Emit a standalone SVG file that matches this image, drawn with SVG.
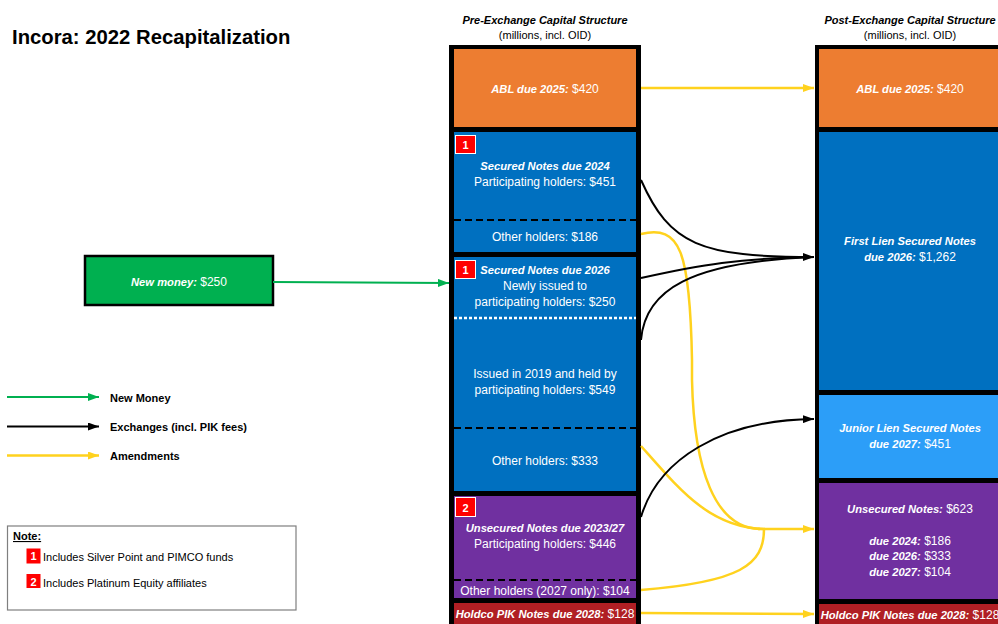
<svg xmlns="http://www.w3.org/2000/svg" width="998" height="624" viewBox="0 0 998 624">
<style>
text{font-family:"Liberation Sans",Arial,sans-serif}
.w{fill:#fff;font-size:12px}
.bi{font-weight:bold;font-style:italic;font-size:11.2px}
.hd{fill:#000;font-size:11px;font-weight:bold;font-style:italic}
.sub{fill:#000;font-size:11px}
.lg{fill:#000;font-size:11px;font-weight:bold}
.nt{fill:#000;font-size:11px}
.bd{fill:#FF0000;stroke:#fff;stroke-width:1}
.bdt{fill:#fff;font-size:11px;font-weight:bold}
.dash{stroke:#000;stroke-width:2;stroke-dasharray:7 4;fill:none}
.dot{stroke:#fff;stroke-width:2.5;stroke-dasharray:3 2;fill:none}
.cy{stroke:#FFD21E;stroke-width:2.5;fill:none}
.ck{stroke:#000;stroke-width:2;fill:none}
.cg{stroke:#00B050;stroke-width:2;fill:none}
</style>
<defs>
<marker id="ay" viewBox="0 0 11 8" refX="11" refY="4" markerWidth="11" markerHeight="8" markerUnits="userSpaceOnUse" orient="auto"><path d="M0,0 L11,4 L0,8 z" fill="#FFD21E"/></marker>
<marker id="ak" viewBox="0 0 11 8" refX="11" refY="4" markerWidth="11" markerHeight="8" markerUnits="userSpaceOnUse" orient="auto"><path d="M0,0 L11,4 L0,8 z" fill="#000"/></marker>
<marker id="ag" viewBox="0 0 11 8" refX="11" refY="4" markerWidth="11" markerHeight="8" markerUnits="userSpaceOnUse" orient="auto"><path d="M0,0 L11,4 L0,8 z" fill="#00B050"/></marker>
</defs>
<rect width="998" height="624" fill="#fff"/>

<text x="12" y="44" style="font-size:20.3px;font-weight:bold" fill="#000">Incora: 2022 Recapitalization</text>

<g id="pre-header">
<text x="545" y="24" class="hd" text-anchor="middle">Pre-Exchange Capital Structure</text>
<text x="545" y="39" class="sub" text-anchor="middle">(millions, incl. OID)</text>
</g>
<g id="post-header">
<text x="910" y="24" class="hd" text-anchor="middle">Post-Exchange Capital Structure</text>
<text x="910" y="39" class="sub" text-anchor="middle">(millions, incl. OID)</text>
</g>

<g id="pre-frame"><rect x="449" y="45" width="192" height="600" fill="#000"/></g>
<g id="post-frame"><rect x="815" y="45" width="192" height="600" fill="#000"/></g>

<g id="pre-abl">
<rect x="454" y="49" width="182" height="78" fill="#ED7D31"/>
<text x="545" y="93" class="w" text-anchor="middle"><tspan class="bi">ABL due 2025:</tspan> $420</text>
</g>
<g id="pre-secured-2024">
<rect x="454" y="132" width="182" height="120" fill="#0070C0"/>
<rect x="455.5" y="135.5" width="20" height="18" class="bd"/>
<text x="465.5" y="149" class="bdt" text-anchor="middle">1</text>
<text x="545" y="170" class="w" text-anchor="middle"><tspan class="bi">Secured Notes due 2024</tspan></text>
<text x="545" y="186" class="w" text-anchor="middle">Participating holders: $451</text>
<line x1="454" y1="220" x2="636" y2="220" class="dash"/>
<text x="545" y="241" class="w" text-anchor="middle">Other holders: $186</text>
</g>
<g id="pre-secured-2026">
<rect x="454" y="257" width="182" height="234" fill="#0070C0"/>
<rect x="455.5" y="260.5" width="20" height="18" class="bd"/>
<text x="465.5" y="274" class="bdt" text-anchor="middle">1</text>
<text x="545" y="274" class="w" text-anchor="middle"><tspan class="bi">Secured Notes due 2026</tspan></text>
<text x="545" y="290" class="w" text-anchor="middle">Newly issued to</text>
<text x="545" y="306" class="w" text-anchor="middle">participating holders: $250</text>
<line x1="454" y1="318" x2="636" y2="318" class="dot"/>
<text x="545" y="378" class="w" text-anchor="middle">Issued in 2019 and held by</text>
<text x="545" y="394" class="w" text-anchor="middle">participating holders: $549</text>
<line x1="454" y1="428" x2="636" y2="428" class="dash"/>
<text x="545" y="465" class="w" text-anchor="middle">Other holders: $333</text>
</g>
<g id="pre-unsecured">
<rect x="454" y="496" width="182" height="102" fill="#7030A0"/>
<rect x="455.5" y="497.5" width="20" height="19" class="bd"/>
<text x="465.5" y="511.5" class="bdt" text-anchor="middle">2</text>
<text x="545" y="532" class="w" text-anchor="middle"><tspan class="bi">Unsecured Notes due 2023/27</tspan></text>
<text x="545" y="548" class="w" text-anchor="middle">Participating holders: $446</text>
<line x1="454" y1="580" x2="636" y2="580" class="dash"/>
<text x="545" y="595" class="w" text-anchor="middle">Other holders (2027 only): $104</text>
</g>
<g id="pre-holdco">
<rect x="454" y="603" width="182" height="30" fill="#B01F24"/>
<text x="545" y="618" class="w" text-anchor="middle"><tspan class="bi">Holdco PIK Notes due 2028:</tspan> $128</text>
</g>

<g id="post-abl">
<rect x="819" y="49" width="182" height="78" fill="#ED7D31"/>
<text x="910" y="93" class="w" text-anchor="middle"><tspan class="bi">ABL due 2025:</tspan> $420</text>
</g>
<g id="post-first-lien">
<rect x="819" y="132" width="182" height="258" fill="#0070C0"/>
<text x="910" y="245" class="w" text-anchor="middle"><tspan class="bi">First Lien Secured Notes</tspan></text>
<text x="910" y="261" class="w" text-anchor="middle"><tspan class="bi">due 2026:</tspan> $1,262</text>
</g>
<g id="post-junior-lien">
<rect x="819" y="395" width="182" height="83" fill="#2C9EF8"/>
<text x="910" y="432" class="w" text-anchor="middle"><tspan class="bi">Junior Lien Secured Notes</tspan></text>
<text x="910" y="448" class="w" text-anchor="middle"><tspan class="bi">due 2027:</tspan> $451</text>
</g>
<g id="post-unsecured">
<rect x="819" y="483" width="182" height="116" fill="#7030A0"/>
<text x="910" y="513" class="w" text-anchor="middle"><tspan class="bi">Unsecured Notes:</tspan> $623</text>
<text x="910" y="545" class="w" text-anchor="middle"><tspan class="bi">due 2024:</tspan> $186</text>
<text x="910" y="560" class="w" text-anchor="middle"><tspan class="bi">due 2026:</tspan> $333</text>
<text x="910" y="576" class="w" text-anchor="middle"><tspan class="bi">due 2027:</tspan> $104</text>
</g>
<g id="post-holdco">
<rect x="819" y="604" width="182" height="30" fill="#B01F24"/>
<text x="910" y="619" class="w" text-anchor="middle"><tspan class="bi">Holdco PIK Notes due 2028:</tspan> $128</text>
</g>

<g id="new-money">
<rect x="85" y="256" width="188" height="49" fill="#00B050" stroke="#000" stroke-width="2.5"/>
<text x="179" y="286" class="w" text-anchor="middle"><tspan class="bi">New money:</tspan> $250</text>
</g>

<g id="connectors">
<path d="M273,282 L449,283" class="cg" marker-end="url(#ag)"/>
<path d="M641,88 L814,88" class="cy" marker-end="url(#ay)"/>
<path d="M641,234 C680,225 690,250 692,360 L692,380 C694,470 715,528 760,529" class="cy"/>
<path d="M641,446 C680,490 710,528 765,529" class="cy"/>
<path d="M641,590 C740,582 764,565 764,529" class="cy"/>
<path d="M758,529 L814,529" class="cy" marker-end="url(#ay)"/>
<path d="M641,613 L814,614" class="cy" marker-end="url(#ay)"/>
<path d="M641,180 C670,245 700,257 814,257" class="ck" marker-end="url(#ak)"/>
<path d="M641,278 C700,265 740,258 814,257" class="ck"/>
<path d="M641,340 C645,290 690,262 814,257" class="ck"/>
<path d="M641,517 C658,460 720,420 814,419" class="ck" marker-end="url(#ak)"/>
</g>

<g id="legend">
<line x1="7" y1="397" x2="99" y2="397" class="cg" marker-end="url(#ag)"/>
<text x="110" y="402" class="lg">New Money</text>
<line x1="7" y1="426.5" x2="99" y2="426.5" class="ck" marker-end="url(#ak)"/>
<text x="110" y="431" class="lg">Exchanges (incl. PIK fees)</text>
<line x1="7" y1="455.5" x2="99" y2="455.5" class="cy" marker-end="url(#ay)"/>
<text x="110" y="460" class="lg">Amendments</text>
</g>

<g id="note">
<rect x="7.5" y="526" width="288.5" height="84" fill="#fff" stroke="#7F7F7F" stroke-width="1.2"/>
<text x="13" y="540" class="nt" font-weight="bold" text-decoration="underline">Note:</text>
<rect x="26.5" y="548.5" width="14" height="15" fill="#FF0000"/>
<text x="33.5" y="560" class="bdt" text-anchor="middle">1</text>
<text x="43" y="561" class="nt">Includes Silver Point and PIMCO funds</text>
<rect x="26.5" y="574" width="14" height="14" fill="#FF0000"/>
<text x="33.5" y="585.5" class="bdt" text-anchor="middle">2</text>
<text x="43" y="586.5" class="nt">Includes Platinum Equity affiliates</text>
</g>
</svg>
